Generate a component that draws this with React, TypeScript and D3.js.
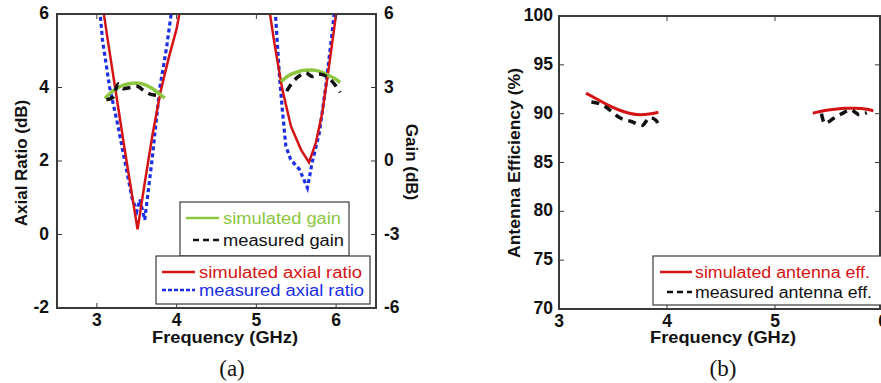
import React from 'react';
import * as d3 from 'd3';

// ---- panel (a): axial ratio + gain ----
const simAR1: [number, number][] = [
  [3.06, 6.4], [3.15, 5.1], [3.25, 3.7], [3.35, 2.3], [3.45, 0.95], [3.51, 0.14],
  [3.6, 1.4], [3.7, 2.75], [3.8, 3.9], [3.9, 4.8], [4.0, 5.6], [4.06, 6.3],
];
const simAR2: [number, number][] = [
  [5.15, 6.3], [5.225, 5.22], [5.325, 3.95], [5.434, 2.94], [5.559, 2.31], [5.66, 1.96],
  [5.746, 2.5], [5.825, 3.3], [5.91, 4.57], [6.0, 6.0], [6.02, 6.3],
];
const measAR1: [number, number][] = [
  [3.03, 6.3], [3.07, 5.3], [3.16, 4.0], [3.26, 3.0], [3.35, 2.0], [3.44, 1.0],
  [3.5, 0.63], [3.54, 0.95], [3.6, 0.4], [3.69, 2.0], [3.79, 4.0], [3.875, 5.1], [3.95, 6.3],
];
const measAR2: [number, number][] = [
  [5.23, 6.3], [5.29, 4.3], [5.325, 3.4], [5.37, 2.4], [5.43, 2.04], [5.54, 1.77],
  [5.64, 1.27], [5.7, 1.96], [5.79, 2.77], [5.87, 4.03], [5.95, 5.5], [5.99, 6.3],
];
const simGain1: [number, number][] = [
  [3.1, 2.55], [3.2, 2.85], [3.3, 3.05], [3.4, 3.15], [3.5, 3.18], [3.6, 3.12],
  [3.7, 2.95], [3.8, 2.7], [3.85, 2.57],
];
const simGain2: [number, number][] = [
  [5.31, 3.24], [5.4, 3.48], [5.5, 3.62], [5.6, 3.7], [5.7, 3.71], [5.8, 3.65],
  [5.9, 3.5], [6.0, 3.33], [6.05, 3.2],
];
const measGain1: [number, number][] = [
  [3.12, 2.5], [3.2, 2.6], [3.27, 3.15], [3.33, 2.95], [3.42, 3.0], [3.5, 3.05],
  [3.6, 2.85], [3.7, 2.7], [3.8, 2.68],
];
const measGain2: [number, number][] = [
  [5.38, 2.85], [5.45, 3.2], [5.55, 3.5], [5.62, 3.6], [5.7, 3.45], [5.78, 3.55],
  [5.85, 3.5], [5.95, 3.25], [6.05, 2.8],
];
const arTicks = [-2, 0, 2, 4, 6];
const gainTicks = [-6, -3, 0, 3, 6];
const freqTicksA = [3, 4, 5, 6];

// ---- panel (b): efficiency ----
const simEff1: [number, number][] = [
  [3.25, 92.1], [3.35, 91.5], [3.45, 90.9], [3.55, 90.4], [3.65, 90.05], [3.75, 89.9],
  [3.85, 90.0], [3.92, 90.15],
];
const simEff2: [number, number][] = [
  [5.35, 90.05], [5.45, 90.3], [5.55, 90.45], [5.65, 90.55], [5.75, 90.55], [5.85, 90.45], [5.91, 90.3],
];
const measEff1: [number, number][] = [
  [3.3, 91.2], [3.4, 90.9], [3.48, 90.3], [3.56, 89.6], [3.67, 89.2], [3.77, 88.8],
  [3.84, 89.6], [3.9, 89.3], [3.92, 88.8],
];
const measEff2: [number, number][] = [
  [5.43, 90.0], [5.46, 89.0], [5.54, 89.5], [5.62, 90.0], [5.7, 90.4], [5.78, 89.9], [5.85, 90.1],
];
const effTicks = [70, 75, 80, 85, 90, 95, 100];
const freqTicksB = [3, 4, 5, 6];

const SANS = 'Liberation Sans, Arial, sans-serif';
const SERIF = 'Liberation Serif, Times New Roman, serif';
const FRAME = '#3a3a3a';

const App: React.FC = () => {
  // panel (a) scales
  const xa = d3.scaleLinear().domain([2.5, 6.5]).range([57, 376]);
  const ya = d3.scaleLinear().domain([-2, 6]).range([308, 14]);
  const yg = d3.scaleLinear().domain([-6, 6]).range([308, 14]);
  const lineAR = d3.line<[number, number]>().x(d => xa(d[0])).y(d => ya(d[1]));
  const lineG = d3.line<[number, number]>().x(d => xa(d[0])).y(d => yg(d[1])).curve(d3.curveMonotoneX);

  // panel (b) scales
  const xb = d3.scaleLinear().domain([3, 6]).range([559, 883]);
  const yb = d3.scaleLinear().domain([70, 100]).range([309, 16]);
  const lineE = d3.line<[number, number]>().x(d => xb(d[0])).y(d => yb(d[1])).curve(d3.curveMonotoneX);

  const tickLen = 5;
  const fit = { lengthAdjust: 'spacingAndGlyphs' as const };

  return (
    <div style={{ position: 'absolute', left: 0, top: 0 }}>
      <svg width={881} height={383} style={{ display: 'block', background: '#fff' }}>
        <defs>
          <clipPath id="clipA">
            <rect x={57} y={14} width={319} height={294} />
          </clipPath>
          <clipPath id="clipB">
            <rect x={559} y={16} width={324} height={293} />
          </clipPath>
        </defs>

        {/* ===== panel (a) ===== */}
        <g clipPath="url(#clipA)" fill="none">
          <path d={lineAR(measAR1)!} stroke="#1a2ee6" strokeWidth={3.2} strokeDasharray="4,3" />
          <path d={lineAR(measAR2)!} stroke="#1a2ee6" strokeWidth={3.2} strokeDasharray="4,3" />
          <path d={lineAR(simAR1)!} stroke="#d41414" strokeWidth={2.5} />
          <path d={lineAR(simAR2)!} stroke="#d41414" strokeWidth={2.5} />
          <path d={lineG(simGain1)!} stroke="#8cc63f" strokeWidth={3.5} />
          <path d={lineG(simGain2)!} stroke="#8cc63f" strokeWidth={3.5} />
          <path d={lineG(measGain1)!} stroke="#111" strokeWidth={3.5} strokeDasharray="8,6" />
          <path d={lineG(measGain2)!} stroke="#111" strokeWidth={3.5} strokeDasharray="8,6" />
        </g>

        {/* ticks */}
        <g stroke={FRAME} strokeWidth={1}>
          {arTicks.map(t => (
            <line key={'al' + t} x1={57} x2={57 + tickLen} y1={ya(t)} y2={ya(t)} />
          ))}
          {gainTicks.map(t => (
            <line key={'gr' + t} x1={376} x2={376 - tickLen} y1={yg(t)} y2={yg(t)} />
          ))}
          {freqTicksA.map(t => (
            <g key={'fa' + t}>
              <line x1={xa(t)} x2={xa(t)} y1={308} y2={308 - tickLen} />
              <line x1={xa(t)} x2={xa(t)} y1={14} y2={14 + tickLen} />
            </g>
          ))}
        </g>
        <rect x={57} y={14} width={319} height={294} fill="none" stroke={FRAME} strokeWidth={2} />

        {/* tick labels */}
        <g fontFamily={SANS} fontWeight="bold" fontSize={17.5} fill="#111">
          {arTicks.map(t => (
            <text key={'alt' + t} x={49} y={ya(t) - 1} textAnchor="end" dominantBaseline="central">{t}</text>
          ))}
          {gainTicks.map(t => (
            <text key={'grt' + t} x={384} y={yg(t) - 1} textAnchor="start" dominantBaseline="central">{t}</text>
          ))}
          {freqTicksA.map(t => (
            <text key={'fat' + t} x={xa(t)} y={326} textAnchor="middle">{t}</text>
          ))}
        </g>
        <g fontFamily={SANS} fontWeight="bold" fontSize={17} fill="#111">
          <text x={152} y={343} textLength={146} {...fit}>Frequency (GHz)</text>
          <text transform="translate(27,163) rotate(-90)" textAnchor="middle">Axial Ratio (dB)</text>
          <text transform="translate(406,162) rotate(90)" textAnchor="middle">Gain (dB)</text>
        </g>
        <text x={232} y={376} textAnchor="middle" fontFamily={SERIF} fontSize={23} fill="#111">(a)</text>

        {/* legends (a) */}
        <g fontFamily={SANS} fontSize={16}>
          <rect x={180} y={202} width={169} height={54} fill="#fff" stroke={FRAME} strokeWidth={1.2} />
          <line x1={186} x2={219} y1={218} y2={218} stroke="#8cc63f" strokeWidth={2.5} />
          <text x={223} y={224} fill="#8cc63f" textLength={118} {...fit}>simulated gain</text>
          <line x1={193} x2={219} y1={240} y2={240} stroke="#111" strokeWidth={2.5} strokeDasharray="6,4" />
          <text x={223} y={246} fill="#111" textLength={121} {...fit}>measured gain</text>

          <rect x={156} y={256} width={214} height={48} fill="#fff" stroke={FRAME} strokeWidth={1.2} />
          <line x1={162} x2={195} y1={272} y2={272} stroke="#d41414" strokeWidth={2.5} />
          <text x={199} y={278} fill="#d41414" textLength={163} {...fit}>simulated axial ratio</text>
          <line x1={162} x2={195} y1={290} y2={290} stroke="#1a2ee6" strokeWidth={2.5} strokeDasharray="4,2" />
          <text x={199} y={296} fill="#1a2ee6" textLength={165} {...fit}>measured axial ratio</text>
        </g>

        {/* ===== panel (b) ===== */}
        <g clipPath="url(#clipB)" fill="none">
          <path d={lineE(simEff1)!} stroke="#d41414" strokeWidth={3} />
          <path d={lineE(simEff2)!} stroke="#d41414" strokeWidth={3} />
          <path d={lineE(measEff1)!} stroke="#111" strokeWidth={3.5} strokeDasharray="8,6" />
          <path d={lineE(measEff2)!} stroke="#111" strokeWidth={3.5} strokeDasharray="8,6" />
        </g>
        <g stroke={FRAME} strokeWidth={1}>
          {effTicks.map(t => (
            <g key={'e' + t}>
              <line x1={559} x2={559 + tickLen} y1={yb(t)} y2={yb(t)} />
              <line x1={880} x2={880 - tickLen} y1={yb(t)} y2={yb(t)} />
            </g>
          ))}
          {freqTicksB.map(t => (
            <g key={'fb' + t}>
              <line x1={xb(t)} x2={xb(t)} y1={309} y2={309 - tickLen} />
              <line x1={xb(t)} x2={xb(t)} y1={16} y2={16 + tickLen} />
            </g>
          ))}
        </g>
        <rect x={559} y={16} width={321} height={293} fill="none" stroke={FRAME} strokeWidth={2} />

        <g fontFamily={SANS} fontWeight="bold" fontSize={17.5} fill="#111">
          {effTicks.map(t => (
            <text key={'et' + t} x={553} y={yb(t) - 1} textAnchor="end" dominantBaseline="central">{t}</text>
          ))}
          {freqTicksB.map(t => (
            <text key={'fbt' + t} x={xb(t)} y={327} textAnchor="middle">{t}</text>
          ))}
        </g>
        <g fontFamily={SANS} fontWeight="bold" fontSize={17} fill="#111">
          <text x={650} y={343} textLength={146} {...fit}>Frequency (GHz)</text>
          <text transform="translate(520,163) rotate(-90)" textAnchor="middle" textLength={190} {...fit}>Antenna Efficiency (%)</text>
        </g>
        <text x={723} y={376} textAnchor="middle" fontFamily={SERIF} fontSize={23} fill="#111">(b)</text>

        {/* legend (b) */}
        <g fontFamily={SANS} fontSize={16}>
          <rect x={653} y={256} width={230} height={49} fill="#fff" stroke={FRAME} strokeWidth={1.2} />
          <line x1={660} x2={692} y1={272} y2={272} stroke="#d41414" strokeWidth={2.5} />
          <text x={695} y={278} fill="#d41414" textLength={175} {...fit}>simulated antenna eff.</text>
          <line x1={667} x2={692} y1={292} y2={292} stroke="#111" strokeWidth={2.5} strokeDasharray="6,4" />
          <text x={695} y={298} fill="#111" textLength={177} {...fit}>measured antenna eff.</text>
        </g>
      </svg>
    </div>
  );
};

export default App;
